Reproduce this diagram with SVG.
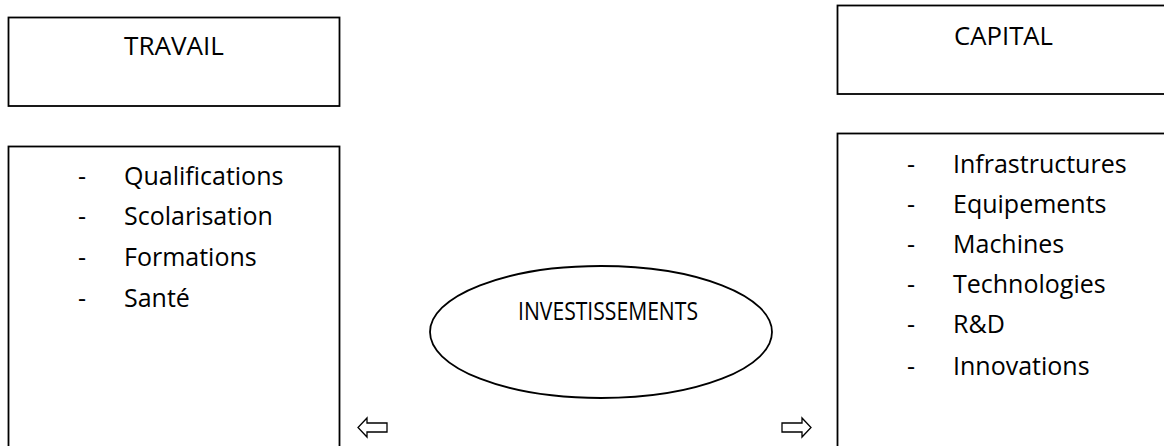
<svg xmlns="http://www.w3.org/2000/svg" width="1164" height="446" viewBox="0 0 1164 446">
<style>
.box{fill:#fff;stroke:#000;stroke-width:1.8}
.t{font-family:"Open Sans","Liberation Sans",sans-serif;font-size:25px;fill:#000}
.arr{fill:#fff;stroke:#000;stroke-width:1.3;stroke-linejoin:miter}
</style>
<rect width="1164" height="446" fill="#fff"/>
<g id="travail">
<rect class="box" x="8.5" y="17.5" width="331" height="88.5"/>
<text class="t" x="124" y="55" textLength="100" lengthAdjust="spacingAndGlyphs">TRAVAIL</text>
</g>
<g id="capital">
<rect class="box" x="837.5" y="5.5" width="340" height="88.5"/>
<text class="t" x="954" y="45" textLength="99" lengthAdjust="spacingAndGlyphs">CAPITAL</text>
</g>
<g id="travail-list">
<rect class="box" x="8.5" y="146.5" width="331" height="320"/>
<text class="t" x="78" y="185">-</text><text class="t" x="124" y="185">Qualifications</text>
<text class="t" x="78" y="225">-</text><text class="t" x="124" y="225">Scolarisation</text>
<text class="t" x="78" y="266">-</text><text class="t" x="124" y="266">Formations</text>
<text class="t" x="78" y="307">-</text><text class="t" x="124" y="307">Santé</text>
</g>
<g id="capital-list">
<rect class="box" x="837.5" y="133.5" width="340" height="330"/>
<text class="t" x="907" y="173">-</text><text class="t" x="953" y="173">Infrastructures</text>
<text class="t" x="907" y="213">-</text><text class="t" x="953" y="213">Equipements</text>
<text class="t" x="907" y="253">-</text><text class="t" x="953" y="253">Machines</text>
<text class="t" x="907" y="293">-</text><text class="t" x="953" y="293">Technologies</text>
<text class="t" x="907" y="333">-</text><text class="t" x="953" y="333">R&amp;D</text>
<text class="t" x="907" y="375">-</text><text class="t" x="953" y="375">Innovations</text>
</g>
<g id="investissements">
<ellipse class="box" cx="601" cy="332" rx="171" ry="66"/>
<text class="t" x="518" y="320" textLength="180" lengthAdjust="spacingAndGlyphs">INVESTISSEMENTS</text>
</g>
<g id="connectors">
<polygon class="arr" points="387,423 367,423 367,418 358,427.5 367,437 367,432 387,432"/>
<polygon class="arr" points="782,423 802,423 802,418 811,427.5 802,437 802,432 782,432"/>
</g>
</svg>
